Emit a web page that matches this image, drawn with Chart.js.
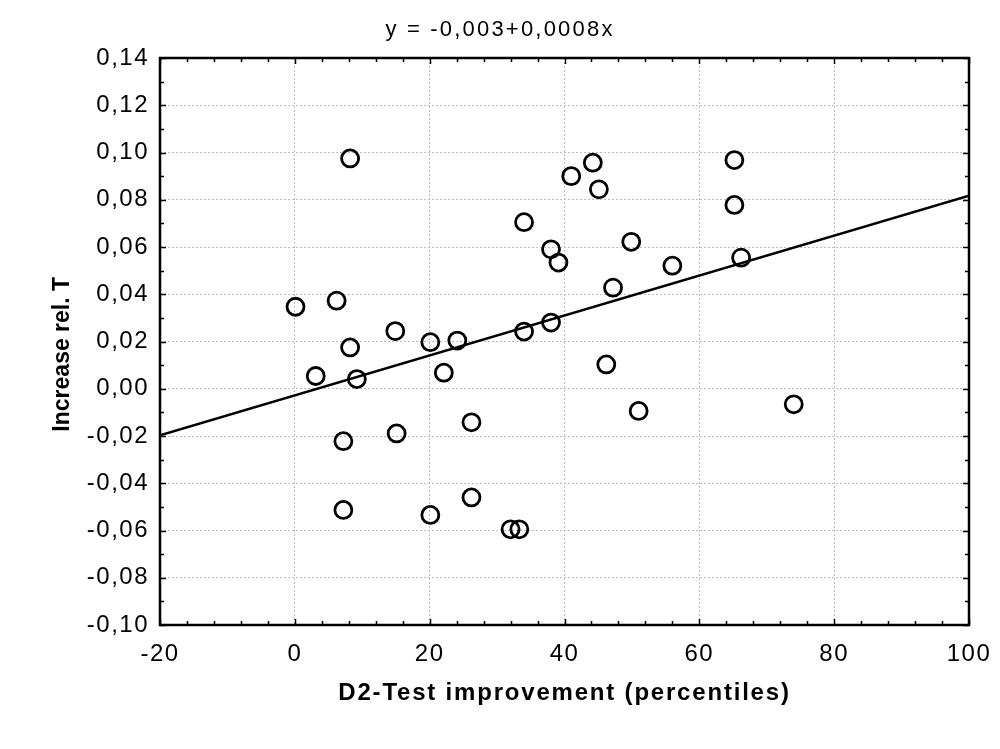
<!DOCTYPE html>
<html>
<head>
<meta charset="utf-8">
<script src="https://cdn.jsdelivr.net/npm/chart.js@4.4.1/dist/chart.umd.min.js"></script>
<style>
    html, body { margin: 0; padding: 0; background: #fff; }
    #wrap { width: 1000px; height: 749px; }
</style>
</head>
<body>
<div id="wrap"><canvas id="scatter-chart" width="1000" height="749"></canvas></div>
<script>
// D2-test improvement (percentiles) vs relative T increase
const improvement = [0.1, 3.1, 6.2, 7.2, 7.2, 8.2, 8.2, 9.2, 14.9, 15.1,
    20.1, 20.1, 22.1, 24.1, 26.2, 26.2, 32.0, 33.3, 34.0, 34.0,
    38.0, 38.0, 39.1, 41.0, 44.2, 45.1, 46.2, 47.2, 49.9, 51.0,
    56.0, 65.2, 65.2, 66.2, 74.0];
const increaseRelT = [0.0347, 0.0054, 0.0373, -0.0222, -0.0513, 0.0975, 0.0175, 0.0041, 0.0244, -0.0189,
    0.0197, -0.0534, 0.0068, 0.0204, -0.0142, -0.0460, -0.0595, -0.0595, 0.0705, 0.0242,
    0.0590, 0.0280, 0.0534, 0.0900, 0.0957, 0.0844, 0.0103, 0.0428, 0.0622, -0.0094,
    0.0521, 0.0968, 0.0778, 0.0555, -0.0066];

// regression line end points
const fitX = [-20, 100];
const fitY = [-0.0197, 0.0817];

const xMin = -20, xMax = 100, xStep = 20, xMinorStep = 4;
const yMin = -0.10, yMax = 0.14, yStep = 0.02, yMinorStep = 0.01;

const FONT = "'Liberation Sans', Arial, sans-serif";

const toPoints = (xs, ys) => xs.map((x, i) => ({x: x, y: ys[i]}));

// wrap a draw method so its text gets its own letter spacing (Statistica text is wide)
const spaced = (obj, method, spacing) => {
    if (!obj || obj["_spaced_" + method]) return;
    const orig = obj[method];
    obj[method] = function (...args) {
        const ctx = this.ctx;
        const prev = ctx.letterSpacing;
        ctx.letterSpacing = spacing;
        const r = orig.apply(this, args);
        ctx.letterSpacing = prev;
        return r;
    };
    obj["_spaced_" + method] = true;
};

/**
 * Statistica-like frame: black box with inward ticks on every side
 */
const frameTicks = {
    id: "frameTicks",
    afterLayout(chart) {
        spaced(chart.titleBlock, "draw", "2.2px");
        spaced(chart.scales.x, "drawLabels", "1.5px");
        spaced(chart.scales.y, "drawLabels", "1.5px");
        spaced(chart.scales.x, "drawTitle", "1.8px");
        spaced(chart.scales.y, "drawTitle", "0px");
    },
    afterDatasetsDraw(chart) {
        const {ctx, chartArea: a, scales: {x, y}} = chart;
        ctx.save();
        ctx.strokeStyle = "#000";
        ctx.lineWidth = 1.5;
        ctx.beginPath();
        for (let v = xMin; v <= xMax + 1e-9; v += xMinorStep) {
            const px = Math.round(x.getPixelForValue(v)) + 0.5;
            const len = Math.abs(v % xStep) < 1e-9 ? 6 : 4;
            ctx.moveTo(px, a.bottom); ctx.lineTo(px, a.bottom - len);
            ctx.moveTo(px, a.top); ctx.lineTo(px, a.top + len);
        }
        for (let i = 0; i <= Math.round((yMax - yMin) / yMinorStep); i++) {
            const v = yMin + i * yMinorStep;
            const py = Math.round(y.getPixelForValue(v)) + 0.5;
            const len = i % 2 === 0 ? 6 : 4;
            ctx.moveTo(a.left, py); ctx.lineTo(a.left + len, py);
            ctx.moveTo(a.right, py); ctx.lineTo(a.right - len, py);
        }
        ctx.stroke();
        ctx.lineWidth = 2.5;
        ctx.strokeRect(a.left, a.top, a.right - a.left, a.bottom - a.top);
        ctx.restore();
    },
};

const getChartOptions = () => {
    return {
        responsive: false,
        animation: false,
        devicePixelRatio: 1,
        layout: {
            padding: 0,
        },
        plugins: {
            legend: {display: false},
            tooltip: {enabled: false},
            title: {
                display: true,
                text: "y = -0,003+0,0008x",
                color: "#000",
                font: {family: FONT, size: 22, weight: "normal", lineHeight: 1.2},
                padding: {top: 16.8, bottom: 14.8},
            },
        },
        scales: {
            x: {
                type: "linear",
                position: "bottom",
                min: xMin,
                max: xMax,
                afterFit: (scale) => {
                    scale.height = 124;
                    scale.paddingLeft = 0;
                    scale.paddingRight = 0;
                },
                ticks: {
                    stepSize: xStep,
                    color: "#000",
                    padding: 15,
                    maxRotation: 0,
                    font: {family: FONT, size: 24},
                },
                grid: {
                    color: "#bdbdbd",
                    lineWidth: 1,
                    drawTicks: false,
                },
                border: {display: false, dash: [2, 2]},
                title: {
                    display: true,
                    text: "D2-Test improvement (percentiles)",
                    color: "#000",
                    font: {family: FONT, size: 24, weight: "bold", lineHeight: 1.2},
                    padding: {top: 0, bottom: 41.6},
                },
            },
            y: {
                type: "linear",
                min: yMin,
                max: yMax,
                afterFit: (scale) => { scale.width = 160; },
                ticks: {
                    stepSize: yStep,
                    color: "#000",
                    padding: 11,
                    font: {family: FONT, size: 24},
                    callback: (v) => (Math.abs(v) < 1e-9 ? 0 : v).toFixed(2).replace(".", ","),
                },
                grid: {
                    color: "#bdbdbd",
                    lineWidth: 1,
                    drawTicks: false,
                },
                border: {display: false, dash: [2, 2]},
                title: {
                    display: true,
                    text: "Increase rel. T    ",
                    color: "#000",
                    font: {family: FONT, size: 23, weight: "bold", lineHeight: 1.2},
                    padding: {top: 49, bottom: 0},
                },
            },
            // empty right axis, only reserves the margin right of the frame
            y2: {
                type: "linear",
                position: "right",
                min: yMin,
                max: yMax,
                afterFit: (scale) => { scale.width = 31; },
                ticks: {display: false},
                grid: {display: false},
                border: {display: false},
            },
        },
    };
};

const data = {
    datasets: [
        {
            type: "line",
            label: "fit",
            data: toPoints(fitX, fitY),
            borderColor: "#000",
            borderWidth: 2.5,
            pointRadius: 0,
            fill: false,
        },
        {
            type: "scatter",
            label: "cases",
            data: toPoints(improvement, increaseRelT),
            pointStyle: "circle",
            pointRadius: 8.5,
            pointBorderWidth: 2.8,
            pointBorderColor: "#000",
            pointBackgroundColor: "rgba(0,0,0,0)",
        },
    ],
};

new Chart(document.getElementById("scatter-chart"), {
    type: "scatter",
    data: data,
    options: getChartOptions(),
    plugins: [frameTicks],
});
</script>
</body>
</html>
